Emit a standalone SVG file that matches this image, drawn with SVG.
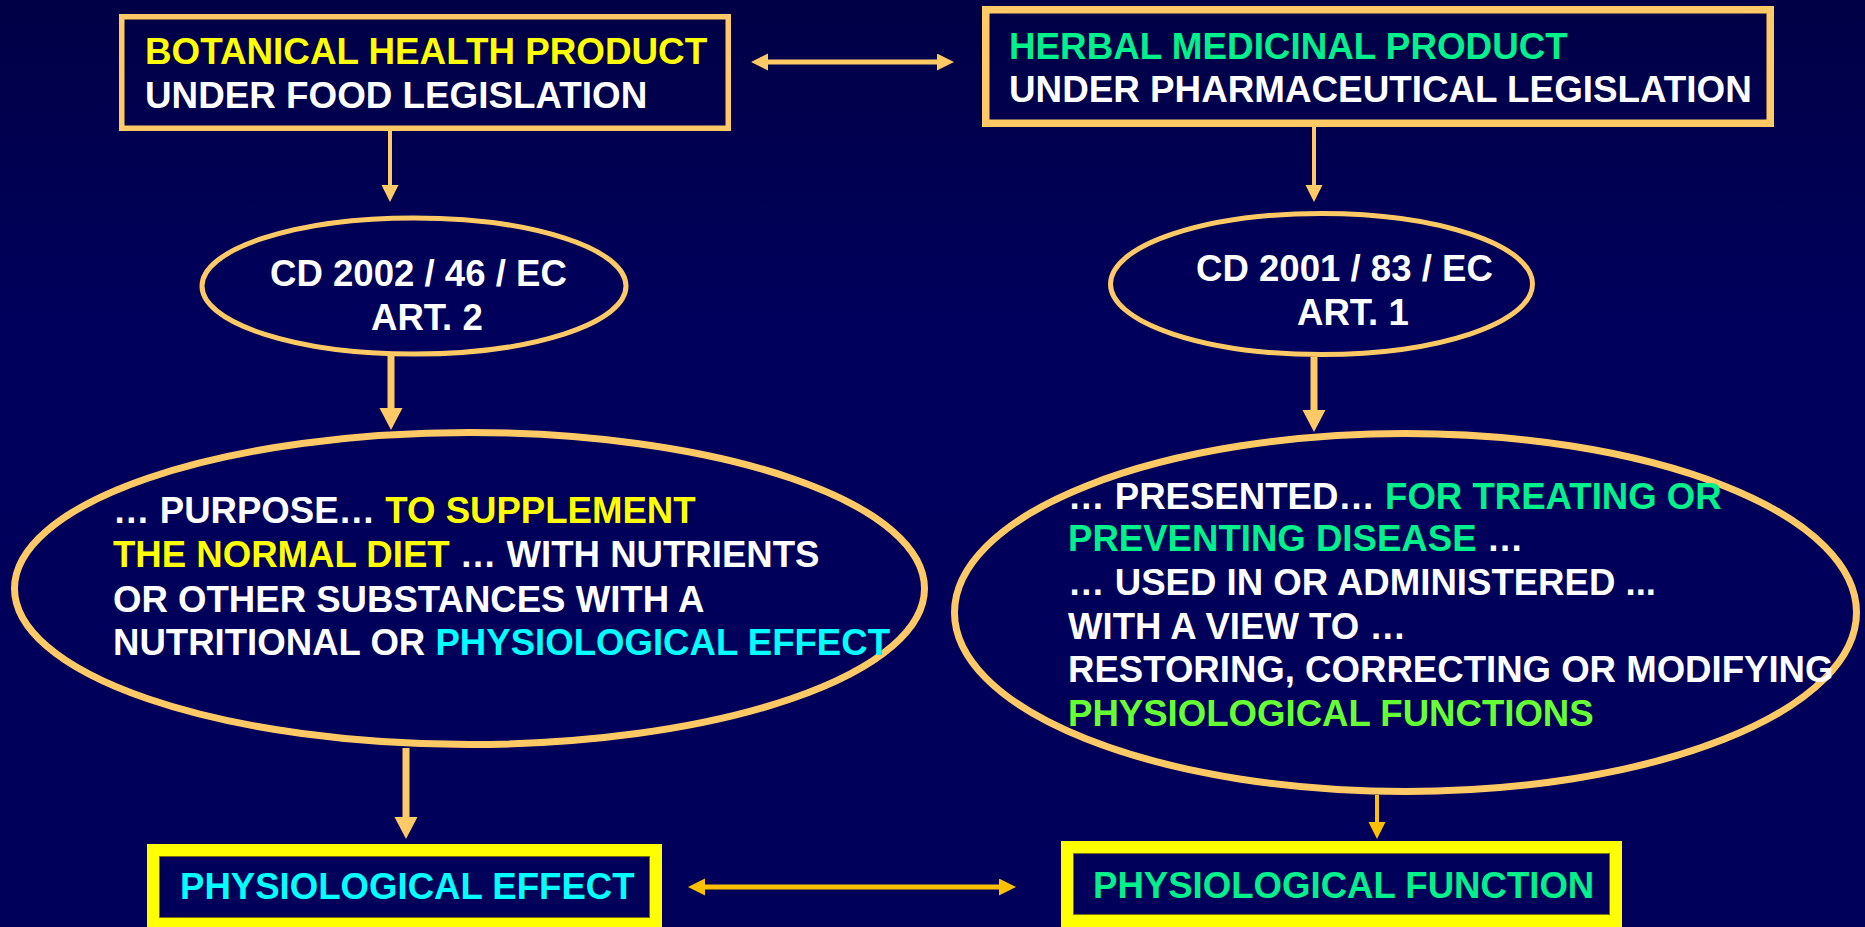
<svg xmlns="http://www.w3.org/2000/svg" width="1865" height="927" viewBox="0 0 1865 927">
<defs>
<linearGradient id="bg" x1="0" y1="0" x2="0" y2="1">
<stop offset="0" stop-color="#000046"/>
<stop offset="0.35" stop-color="#00005c"/>
<stop offset="1" stop-color="#00005a"/>
</linearGradient>
<marker id="hs" markerUnits="userSpaceOnUse" markerWidth="18" markerHeight="18" refX="0" refY="8.5" orient="auto-start-reverse"><path d="M0,0 L17,8.5 L0,17 Z" fill="#FFC966"/></marker>
<marker id="hl" markerUnits="userSpaceOnUse" markerWidth="24" markerHeight="24" refX="0" refY="11.5" orient="auto"><path d="M0,0 L22,11.5 L0,23 Z" fill="#FFC966"/></marker>
<marker id="ha" markerUnits="userSpaceOnUse" markerWidth="18" markerHeight="18" refX="0" refY="8.5" orient="auto-start-reverse"><path d="M0,0 L17,8.5 L0,17 Z" fill="#FFC000"/></marker>
</defs>
<style>
text{font-family:"Liberation Sans",Arial,sans-serif;font-weight:bold;font-size:36.6px;fill:#FFFFFF}
.t{font-size:36.8px}
.y{fill:#FFFF00}.g{fill:#00F08C}.c{fill:#00FFFF}.lg{fill:#66FF33}
.box{fill:none;stroke:#FFC966}
.ell{fill:none;stroke:#FFC966}
.ybox{fill:none;stroke:#FFFF00;stroke-width:12}
.inner{fill:none;stroke:#7a6a10;stroke-width:1}
.c1{stroke:#FFC966;fill:none}
.c2{stroke:#FFC000;fill:none}
</style>
<rect width="1865" height="927" fill="url(#bg)"/>

<g id="connectors">
<line class="c1" x1="768" y1="62" x2="937" y2="62" stroke-width="5" marker-start="url(#hs)" marker-end="url(#hs)"/>
<line class="c1" x1="390" y1="131" x2="390" y2="185" stroke-width="4" marker-end="url(#hs)"/>
<line class="c1" x1="391" y1="356" x2="391" y2="408" stroke-width="7" marker-end="url(#hl)"/>
<line class="c1" x1="1314" y1="127" x2="1314" y2="185" stroke-width="4" marker-end="url(#hs)"/>
<line class="c1" x1="1314" y1="357" x2="1314" y2="410" stroke-width="7" marker-end="url(#hl)"/>
<line class="c1" x1="406" y1="748" x2="406" y2="817" stroke-width="7" marker-end="url(#hl)"/>
<line class="c2" x1="1377" y1="795" x2="1377" y2="822" stroke-width="4" marker-end="url(#ha)"/>
<line class="c2" x1="705" y1="887" x2="999" y2="887" stroke-width="5" marker-start="url(#ha)" marker-end="url(#ha)"/>
</g>

<g id="botanical">
<rect class="box" x="121.75" y="16.75" width="606.5" height="111.5" stroke-width="5.5"/>
<text x="145" y="64" class="y t">BOTANICAL HEALTH PRODUCT</text>
<text x="145" y="108" class="t">UNDER FOOD LEGISLATION</text>
</g>

<g id="herbal">
<rect class="box" x="985.75" y="9.75" width="784.5" height="113.5" stroke-width="7.5"/>
<text x="1009" y="59" class="g t">HERBAL MEDICINAL PRODUCT</text>
<text x="1009" y="102" class="t">UNDER PHARMACEUTICAL LEGISLATION</text>
</g>

<g id="cd2002">
<ellipse class="ell" cx="414" cy="286" rx="212" ry="68" stroke-width="5"/>
<text x="270" y="286">CD 2002 / 46 / EC</text>
<text x="371" y="330">ART. 2</text>
</g>

<g id="cd2001">
<ellipse class="ell" cx="1321.5" cy="284" rx="211" ry="70.5" stroke-width="5"/>
<text x="1196" y="281">CD 2001 / 83 / EC</text>
<text x="1297" y="325">ART. 1</text>
</g>

<g id="purpose">
<ellipse class="ell" cx="469.5" cy="588.5" rx="455" ry="156" stroke-width="7"/>
<text x="113" y="523">… PURPOSE… <tspan class="y">TO SUPPLEMENT</tspan></text>
<text x="113" y="567"><tspan class="y">THE NORMAL DIET</tspan> … WITH NUTRIENTS</text>
<text x="113" y="612">OR OTHER SUBSTANCES WITH A</text>
<text x="113" y="655">NUTRITIONAL OR <tspan class="c">PHYSIOLOGICAL EFFECT</tspan></text>
</g>

<g id="presented">
<ellipse class="ell" cx="1405.5" cy="612.5" rx="451" ry="179" stroke-width="7"/>
<text x="1068" y="509">… PRESENTED… <tspan class="g">FOR TREATING OR</tspan></text>
<text x="1068" y="551"><tspan class="g">PREVENTING DISEASE</tspan> …</text>
<text x="1068" y="595">… USED IN OR ADMINISTERED ...</text>
<text x="1068" y="639">WITH A VIEW TO …</text>
<text x="1068" y="682">RESTORING, CORRECTING OR MODIFYING</text>
<text x="1068" y="726" class="lg">PHYSIOLOGICAL FUNCTIONS</text>
</g>

<g id="effect">
<rect class="ybox" x="153" y="850" width="503" height="74"/>
<rect class="inner" x="159.5" y="856.5" width="490" height="61"/>
<text x="180" y="899" class="c">PHYSIOLOGICAL EFFECT</text>
</g>

<g id="function">
<rect class="ybox" x="1067" y="847" width="549" height="74"/>
<rect class="inner" x="1073.5" y="853.5" width="536" height="61"/>
<text x="1093" y="898" class="g">PHYSIOLOGICAL FUNCTION</text>
</g>
</svg>
